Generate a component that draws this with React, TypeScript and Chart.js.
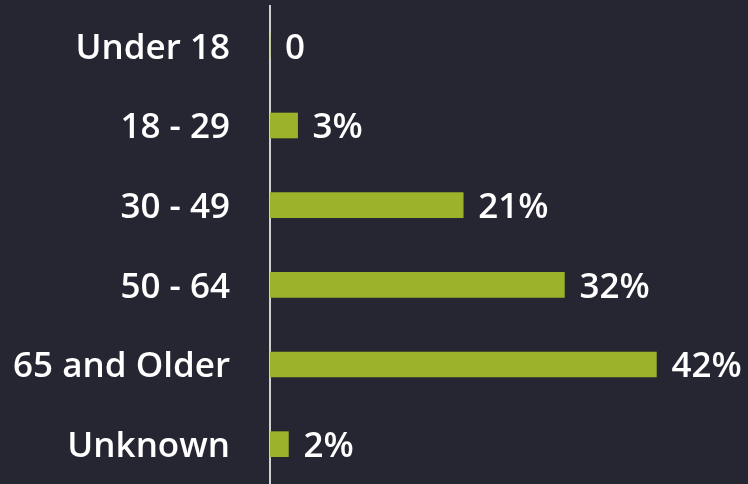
import React, { useEffect, useRef } from "react";
import { Chart, registerables } from "chart.js";

Chart.register(...registerables);

const categories = ["Under 18", "18 - 29", "30 - 49", "50 - 64", "65 and Older", "Unknown"];
const values = [0, 3, 21, 32, 42, 2];
const valueLabels = ["0", "3%", "21%", "32%", "42%", "2%"];

const BG = "#262632";
const BAR = "#9cb22a";
const FONT = "'Open Sans', 'Noto Sans', sans-serif";

export default function App() {
  const ref = useRef<HTMLCanvasElement | null>(null);
  useEffect(() => {
    document.body.style.margin = "0";
    document.body.style.background = BG;
    const labelPlugin = {
      id: "valueLabels",
      afterDatasetsDraw(chart: any) {
        const ctx = chart.ctx;
        const meta = chart.getDatasetMeta(0);
        ctx.save();
        ctx.fillStyle = "#ffffff";
        ctx.font = `600 35px ${FONT}`;
        ctx.textAlign = "left";
        ctx.textBaseline = "middle";
        meta.data.forEach((el: any, i: number) => {
          ctx.fillText(valueLabels[i], el.x + 15, el.y + 3);
        });
        ctx.restore();
      },
    };
    const chart = new Chart(ref.current!, {
      type: "bar",
      data: {
        labels: categories,
        datasets: [
          {
            data: values,
            backgroundColor: BAR,
            barThickness: 25,
          },
        ],
      },
      options: {
        indexAxis: "y",
        animation: false,
        responsive: false,
        maintainAspectRatio: false,
        layout: { padding: { top: 6, right: 18, bottom: 0, left: 0 } },
        plugins: { legend: { display: false }, tooltip: { enabled: false } },
        scales: {
          x: { display: false, min: 0, max: 50 },
          y: {
            afterFit: (s: any) => {
              s.width = 270;
              s.paddingTop = 0;
              s.paddingBottom = 0;
            },
            grid: { display: false, drawTicks: false },
            border: { display: true, color: "#cfcfcf", width: 2 },
            ticks: {
              color: "#ffffff",
              padding: 40,
              labelOffset: 3,
              font: { family: FONT, size: 35, weight: 600 },
            },
          },
        },
      },
      plugins: [labelPlugin],
    });
    return () => chart.destroy();
  }, []);
  return (
    <div style={{ width: 748, height: 484, background: BG }}>
      <canvas ref={ref} width={748} height={484} style={{ display: "block" }} />
    </div>
  );
}
